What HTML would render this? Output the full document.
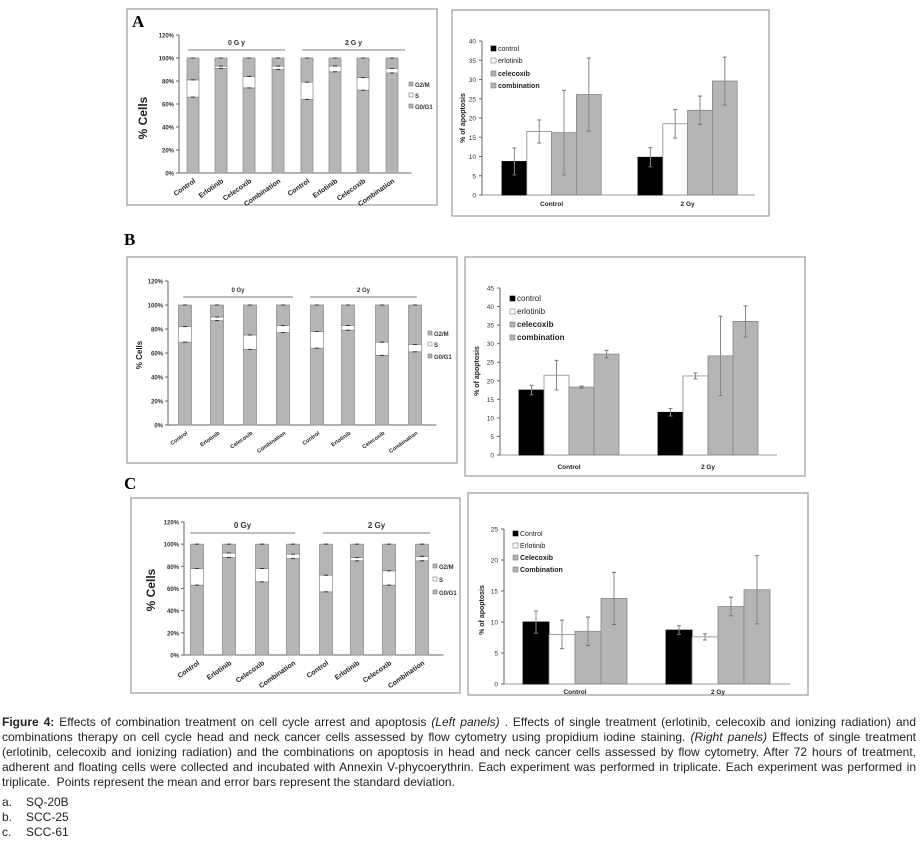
<!DOCTYPE html>
<html><head><meta charset="utf-8"><style>
body{margin:0;width:923px;height:849px;background:#fff;overflow:hidden;position:relative;font-family:"Liberation Sans",Arial,sans-serif}
#cap{position:absolute;left:2px;top:715px;width:914px;font-size:12px;line-height:15px;color:#222;text-align:justify}
#cap p{margin:0}
#cap .li{margin-top:5px}
#cap .li div{height:15px}
#cap .li span{display:inline-block;width:24px}
</style></head><body>
<svg id="fig" width="923" height="710" style="position:absolute;left:0;top:0" font-family="Liberation Sans, Arial, sans-serif"></svg>
<div id="cap">
<p><b>Figure 4:</b> Effects of combination treatment on cell cycle arrest and apoptosis <i>(Left panels)</i> . Effects of single treatment (erlotinib, celecoxib and ionizing radiation) and combinations therapy on cell cycle head and neck cancer cells assessed by flow cytometry using propidium iodine staining. <i>(Right panels)</i> Effects of single treatment (erlotinib, celecoxib and ionizing radiation) and the combinations on apoptosis in head and neck cancer cells assessed by flow cytometry. After 72 hours of treatment, adherent and floating cells were collected and incubated with Annexin V-phycoerythrin. Each experiment was performed in triplicate. Each experiment was performed in triplicate.&nbsp; Points represent the mean and error bars represent the standard deviation.</p>
<div class="li"><div><span>a.</span>SQ-20B</div><div><span>b.</span>SCC-25</div><div><span>c.</span>SCC-61</div></div>
</div>
<script>
// ---- data ----
const cycleCategories = ["Control","Erlotinib","Celecoxib","Combination","Control","Erlotinib","Celecoxib","Combination"];
const cycleLegend = ["G2/M","S","G0/G1"];
const A_g0g1 = [66,91,74,90,64,88,72,87];
const A_sTop = [81,93,84,93,79,93,83,91];
const B_g0g1 = [69,87,63,77,64,79,58,61];
const B_sTop = [82,90,75,83,78,83,69,67];
const C_g0g1 = [63,88,66,87,57,85,63,85];
const C_sTop = [78,92,78,91,72,88,76,89];
const cycleTicks = ["0%","20%","40%","60%","80%","100%","120%"];

const apoGroups = ["Control","2 Gy"];
const apoLegendA = ["control","erlotinib","celecoxib","combination"];
const apoLegendC = ["Control","Erlotinib","Celecoxib","Combination"];
const A_apoCtrl = [8.7,16.5,16.2,26.1], A_errCtrl = [3.5,3,11,9.5];
const A_apo2Gy = [9.8,18.5,22,29.6], A_err2Gy = [2.5,3.7,3.7,6.2];
const B_apoCtrl = [17.5,21.5,18.3,27.2], B_errCtrl = [1.3,4,0.3,1];
const B_apo2Gy = [11.5,21.3,26.7,36], B_err2Gy = [1,0.8,10.7,4.2];
const C_apoCtrl = [10,8,8.5,13.8], C_errCtrl = [1.8,2.3,2.3,4.2];
const C_apo2Gy = [8.7,7.6,12.5,15.2], C_err2Gy = [0.7,0.5,1.5,5.5];

const svg = document.getElementById('fig');
const NS = 'http://www.w3.org/2000/svg';
function mk(tag, at, parent){const e=document.createElementNS(NS,tag);for(const k in at)e.setAttribute(k,at[k]);(parent||svg).appendChild(e);return e;}
function txt(s, at, parent){const e=mk('text',at,parent);e.textContent=s;return e;}

function cyclePanel(p){
  const g=mk('g',{});
  
  
  const fr=mk('rect',{x:p.fx,y:p.fy,width:p.fw,height:p.fh,fill:'#fff',stroke:'#999','stroke-width':1.2},g);
  
  
  const L=txt(p.letter,{x:p.lx,y:p.ly,'font-size':17,'font-weight':'bold','font-family':'Liberation Serif, serif'},g);
  
  
  const y=v=>p.y0-(p.y0-p.y120)*v/120;
  for(let i=0;i<cycleTicks.length;i++){
    const yy=y(i*20);
    mk('line',{x1:p.ax-3,x2:p.ax,y1:yy,y2:yy,stroke:'#666'},g);
    const t=txt(cycleTicks[i],{x:p.ax-5,y:yy+2.5,'font-size':6,'font-weight':'bold','text-anchor':'end',fill:'#333'},g);
    
    
  }
  mk('line',{x1:p.ax,x2:p.ax,y1:p.y120,y2:p.y0,stroke:'#666'},g);
  const xend=p.cx[7]+(p.cx[7]-p.cx[6])/2+5;
  mk('line',{x1:p.ax,x2:xend,y1:p.y0,y2:p.y0,stroke:'#666'},g);
  const yl=txt('% Cells',{x:0,y:0,'font-size':p.ylfs,'font-weight':'bold',fill:'#222','text-anchor':'middle',transform:`translate(${p.ylx},${p.yly}) rotate(-90)`},g);
  
  
  for(let i=0;i<cycleCategories.length;i++){
    const c=p.cx[i], bw=p.bw, x=c-bw/2;
    const b1=mk('rect',{x:x,y:y(p.g0[i]),width:bw,height:y(0)-y(p.g0[i]),fill:'#b5b5b5',stroke:'#888','stroke-width':0.7},g);
    
    
    const b2=mk('rect',{x:x,y:y(p.s[i]),width:bw,height:y(p.g0[i])-y(p.s[i]),fill:'#fff',stroke:'#888','stroke-width':0.7},g);
    
    
    const b3=mk('rect',{x:x,y:y(100),width:bw,height:y(p.s[i])-y(100),fill:'#b5b5b5',stroke:'#888','stroke-width':0.7},g);
    
    
    [p.g0[i],p.s[i],100].forEach(v=>mk('line',{x1:c-2,x2:c+2,y1:y(v),y2:y(v),stroke:'#333','stroke-width':1},g));
    const tl=txt(cycleCategories[i],{x:0,y:0,'font-size':p.cfs,'font-weight':'bold','text-anchor':'end',fill:'#222',transform:`translate(${c+3},${p.y0+9}) rotate(-35)`},g);
    
    
  }
  p.groups.forEach(gr=>{
    mk('line',{x1:gr[0],x2:gr[1],y1:p.gy,y2:p.gy,stroke:'#999','stroke-width':1.2},g);
    const gl=txt(gr[2],{x:(gr[0]+gr[1])/2,y:p.gy-5,'font-size':p.gfs,'font-weight':'bold','text-anchor':'middle',fill:'#333'},g);
    
    
  });
  cycleLegend.forEach((s,i)=>{
    mk('rect',{x:p.legx,y:p.legy[i]-4,width:4,height:4,fill:i==1?'#fff':'#b5b5b5',stroke:'#777','stroke-width':0.6},g);
    const le=txt(s,{x:p.legx+6,y:p.legy[i]+1,'font-size':6,'font-weight':'bold',fill:'#333'},g);
    
    
  });
}

function apoPanel(p){
  const g=mk('g',{});
  
  
  const fr=mk('rect',{x:p.fx,y:p.fy,width:p.fw,height:p.fh,fill:'#fff',stroke:'#999','stroke-width':1.2},g);
  
  
  const y=v=>p.y0-(p.y0-p.ytop)*v/p.max;
  for(let v=0;v<=p.max;v+=5){
    const yy=y(v);
    mk('line',{x1:p.ax-3,x2:p.ax,y1:yy,y2:yy,stroke:'#666'},g);
    const t=txt(String(v),{x:p.ax-6,y:yy+2.5,'font-size':6.5,'text-anchor':'end',fill:'#333'},g);
    
    
  }
  mk('line',{x1:p.ax,x2:p.ax,y1:p.ytop,y2:p.y0,stroke:'#666'},g);
  mk('line',{x1:p.ax,x2:p.axEnd,y1:p.y0,y2:p.y0,stroke:'#999'},g);
  const yl=txt('% of apoptosis',{x:0,y:0,'font-size':7,'font-weight':'bold',fill:'#222','text-anchor':'middle',transform:`translate(${p.ylx},${p.yly}) rotate(-90)`},g);
  
  
  const fills=['#000','#fff','#b5b5b5','#b5b5b5'];
  const sets=[[p.v0,p.e0,p.s0],[p.v1,p.e1,p.s1]];
  sets.forEach((st,gi)=>{
    const [vals,errs,start]=st;
    vals.forEach((v,i)=>{
      const x=start+i*p.bw;
      const b=mk('rect',{x:x,y:y(v),width:p.bw,height:y(0)-y(v),fill:fills[i],stroke:i==0?'#000':'#888','stroke-width':0.8},g);
      
      
      const c=x+p.bw/2;
      mk('line',{x1:c,x2:c,y1:y(v+errs[i]),y2:y(v-errs[i]),stroke:'#888','stroke-width':1},g);
      mk('line',{x1:c-2,x2:c+2,y1:y(v+errs[i]),y2:y(v+errs[i]),stroke:'#777'},g);
      mk('line',{x1:c-2,x2:c+2,y1:y(v-errs[i]),y2:y(v-errs[i]),stroke:'#777'},g);
    });
    const gl=txt(apoGroups[gi],{x:start+2*p.bw,y:p.gly,'font-size':6.5,'font-weight':'bold','text-anchor':'middle',fill:'#222'},g);
    
    
  });
  p.leg.forEach((s,i)=>{
    mk('rect',{x:p.legx,y:p.legy[i]-5,width:5,height:5,fill:fills[i],stroke:i==0?'#000':'#777','stroke-width':0.6},g);
    const le=txt(s,{x:p.legx+7,y:p.legy[i],'font-size':p.legfs,'font-weight':i>=2?'bold':'normal',fill:'#222'},g);
    
    
  });
}

cyclePanel({name:'panel-a-cell-cycle',letter:'A',lx:132,ly:27,fx:127,fy:9,fw:310,fh:196,ax:179,y0:173,y120:35,
  cx:[193,221,249,278,307,335,363,392],bw:12,g0:A_g0g1,s:A_sTop,ylx:147,yly:118,ylfs:12,cfs:7,gfs:7,
  gy:50,groups:[[188,285,'0 G y'],[302,405,'2 G y']],legx:409,legy:86,legy:[86,97,108]});
cyclePanel({name:'panel-b-cell-cycle',letter:'B',lx:124,ly:245,fx:127,fy:257,fw:330,fh:206,ax:168,y0:425,y120:281,
  cx:[185,217,250,283,317,348,382,415],bw:13,g0:B_g0g1,s:B_sTop,ylx:142,yly:355,ylfs:8,cfs:5.5,gfs:6,
  gy:297,groups:[[183,293,'0 Gy'],[310,417,'2 Gy']],legx:428,legy:[335,346,358]});
cyclePanel({name:'panel-c-cell-cycle',letter:'C',lx:124,ly:489,fx:131,fy:498,fw:329,fh:195,ax:184,y0:655,y120:522,
  cx:[197,229,262,293,326,357,389,422],bw:13,g0:C_g0g1,s:C_sTop,ylx:155,yly:590,ylfs:12,cfs:7,gfs:8,
  gy:533,groups:[[190,295,'0 Gy'],[323,430,'2 Gy']],legx:433,legy:[568,581,594]});

apoPanel({name:'panel-a-apoptosis',fx:452,fy:10,fw:317,fh:206,ax:482,y0:195,ytop:41,max:40,axEnd:755,
  v0:A_apoCtrl,e0:A_errCtrl,s0:502,v1:A_apo2Gy,e1:A_err2Gy,s1:638,bw:24.8,gly:206,ylx:465,yly:118,
  leg:apoLegendA,legx:491,legy:[51,63,76,88],legfs:7});
apoPanel({name:'panel-b-apoptosis',fx:465,fy:257,fw:340,fh:219,ax:500,y0:455,ytop:288,max:45,axEnd:777,
  v0:B_apoCtrl,e0:B_errCtrl,s0:519,v1:B_apo2Gy,e1:B_err2Gy,s1:658,bw:25,gly:469,ylx:479,yly:371,
  leg:apoLegendA,legx:510,legy:[301,314,327,340],legfs:8});
apoPanel({name:'panel-c-apoptosis',fx:468,fy:493,fw:340,fh:202,ax:504,y0:684,ytop:529,max:25,axEnd:790,
  v0:C_apoCtrl,e0:C_errCtrl,s0:523,v1:C_apo2Gy,e1:C_err2Gy,s1:666,bw:26,gly:694,ylx:484,yly:610,
  leg:apoLegendC,legx:513,legy:[536,548,560,572],legfs:7});
</script>
</body></html>
